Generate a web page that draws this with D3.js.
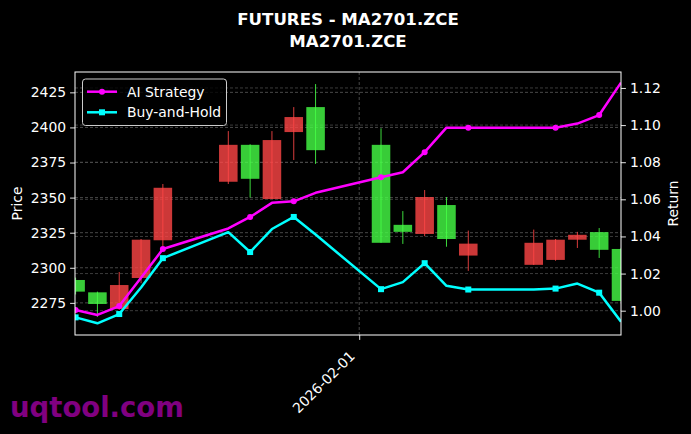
<!DOCTYPE html>
<html>
<head>
<meta charset="utf-8">
<script src="https://cdn.jsdelivr.net/npm/d3@7"></script>
<style>
  html, body { margin: 0; padding: 0; background: #000; }
  svg { display: block; font-family: "DejaVu Sans", sans-serif; }
</style>
</head>
<body>
<svg id="chart" width="691" height="434"></svg>
<script>
// ---------- data ----------
const dates = ["2026-01-19","2026-01-20","2026-01-21","2026-01-22","2026-01-23",
  "2026-01-26","2026-01-27","2026-01-28","2026-01-29","2026-01-30",
  "2026-02-02","2026-02-03","2026-02-04","2026-02-05","2026-02-06",
  "2026-02-09","2026-02-10","2026-02-11","2026-02-12","2026-02-13"];
const opens  = [2291.3,2282.5,2270.6,2292.7,2319.6,2361.3,2387.6,2349.0,2396.7,2414.5,
                2387.6,2330.6,2324.1,2344.7,2308.7,2302.1,2305.6,2320.0,2325.4,2313.4];
const highs  = [2293.0,2283.0,2297.0,2320.5,2359.7,2397.4,2388.0,2397.4,2414.5,2430.9,
                2399.4,2340.4,2355.4,2350.4,2326.5,2327.2,2320.5,2325.6,2328.3,2314.0];
const lows   = [2281.0,2265.0,2270.0,2289.0,2315.5,2359.7,2350.0,2349.0,2376.8,2374.0,
                2317.8,2317.0,2322.5,2315.0,2297.8,2302.0,2305.0,2314.1,2307.0,2276.0];
const closes = [2283.0,2274.2,2287.7,2320.0,2357.0,2387.6,2363.4,2391.0,2407.4,2383.8,
                2317.8,2325.6,2350.4,2320.5,2317.2,2317.8,2320.0,2323.5,2312.8,2276.4];
const aiReturn = [1.0004,0.9977,1.0025,1.0177,1.0332,1.0443,1.0505,1.0581,1.0589,1.0635,
                  1.0719,1.0746,1.0854,1.0986,1.0986,1.0986,1.0986,1.1008,1.1054,1.1229];
const bhReturn = [0.9964,0.9932,0.9982,1.0125,1.0283,1.0423,1.0316,1.0440,1.0505,1.0410,
                  1.0116,1.0154,1.0256,1.0134,1.0114,1.0114,1.0119,1.0146,1.0097,0.9941];
const priceTicks = [2275, 2300, 2325, 2350, 2375, 2400, 2425];
const returnTicks = [1.00, 1.02, 1.04, 1.06, 1.08, 1.10, 1.12];
const xTickLabels = ["2026-02-01"];
const seriesNames = ["AI Strategy", "Buy-and-Hold"];
const titleLines = ["FUTURES - MA2701.ZCE", "MA2701.ZCE"];
const watermark = "uqtool.com";

// ---------- layout ----------
const L = 75, R = 621, T = 72, B = 335;
const parse = d3.utcParse("%Y-%m-%d");
const dts = dates.map(parse);

const x = d3.scaleUtc().domain([dts[0], dts[dts.length - 1]]).range([75.6, 621]);
const yP = d3.scaleLinear().domain([2252.1, 2439.5]).range([B, T]);
const yR = d3.scaleLinear().domain([0.9869, 1.1286]).range([B, T]);

const svg = d3.select("#chart");
svg.append("rect").attr("width", 691).attr("height", 434).attr("fill", "#000");

svg.append("defs").append("clipPath").attr("id", "clip")
  .append("rect").attr("x", L).attr("y", T).attr("width", R - L).attr("height", B - T);

// grids
const grid = svg.append("g");
grid.selectAll(".gp").data(priceTicks).join("line")
  .attr("x1", L).attr("x2", R).attr("y1", d => yP(d)).attr("y2", d => yP(d))
  .attr("stroke", "#5a5a5a").attr("stroke-width", 0.8).attr("stroke-dasharray", "3,2");
grid.selectAll(".gr").data(returnTicks).join("line")
  .attr("x1", L).attr("x2", R).attr("y1", d => yR(d)).attr("y2", d => yR(d))
  .attr("stroke", "#4a4a4a").attr("stroke-width", 0.8).attr("stroke-dasharray", "3,2");
const xTickDates = xTickLabels.map(parse);
grid.selectAll(".gx").data(xTickDates).join("line")
  .attr("x1", d => x(d)).attr("x2", d => x(d)).attr("y1", T).attr("y2", B)
  .attr("stroke", "#5a5a5a").attr("stroke-width", 0.8).attr("stroke-dasharray", "3,2");

// candles
const day = x(dts[1]) - x(dts[0]);
const bw = day * 0.85;
const candles = svg.append("g").attr("clip-path", "url(#clip)");
const cdata = dts.map((d, i) => ({d, o: opens[i], h: highs[i], l: lows[i], c: closes[i]}));
const colUp = "#ff4646", colDn = "#46ff46";
candles.selectAll(".body").data(cdata).join("rect")
  .attr("x", d => x(d.d) - bw / 2)
  .attr("width", bw)
  .attr("y", d => yP(Math.max(d.o, d.c)))
  .attr("height", d => Math.max(1, Math.abs(yP(d.o) - yP(d.c))))
  .attr("fill", d => d.c >= d.o ? colUp : colDn)
  .attr("fill-opacity", 0.8);
candles.selectAll(".wick").data(cdata).join("line")
  .attr("x1", d => x(d.d)).attr("x2", d => x(d.d))
  .attr("y1", d => yP(d.h)).attr("y2", d => yP(d.l))
  .attr("stroke", d => d.c >= d.o ? colUp : colDn)
  .attr("stroke-width", 1).attr("stroke-opacity", 0.85);

// lines
const lines = svg.append("g").attr("clip-path", "url(#clip)");
const series = [
  {name: seriesNames[0], vals: aiReturn, color: "#ff00ff", marker: "circle"},
  {name: seriesNames[1], vals: bhReturn, color: "#00ffff", marker: "square"}
];
const lineGen = d3.line().x((v, i) => x(dts[i])).y(v => yR(v));
series.forEach(s => {
  lines.append("path").datum(s.vals).attr("d", lineGen)
    .attr("fill", "none").attr("stroke", s.color).attr("stroke-width", 2.5)
    .attr("stroke-linejoin", "round");
  const pts = s.vals.map((v, i) => ({v, i})).filter(p => p.i % 2 === 0);
  if (s.marker === "circle") {
    lines.selectAll(null).data(pts).join("circle")
      .attr("cx", p => x(dts[p.i])).attr("cy", p => yR(p.v)).attr("r", 3)
      .attr("fill", s.color);
  } else {
    lines.selectAll(null).data(pts).join("rect")
      .attr("x", p => x(dts[p.i]) - 3).attr("y", p => yR(p.v) - 3)
      .attr("width", 6).attr("height", 6).attr("fill", s.color);
  }
});

// axes
const axL = svg.append("g").attr("transform", `translate(${L},0)`)
  .call(d3.axisLeft(yP).tickValues(priceTicks).tickFormat(d3.format("d")).tickSize(4.9).tickPadding(4));
const axR = svg.append("g").attr("transform", `translate(${R},0)`)
  .call(d3.axisRight(yR).tickValues(returnTicks).tickFormat(d3.format(".2f")).tickSize(4.9).tickPadding(4));
const axB = svg.append("g").attr("transform", `translate(0,${B})`)
  .call(d3.axisBottom(x).tickValues(xTickDates).tickFormat(d3.utcFormat("%Y-%m-%d")).tickSize(4.9).tickPadding(4));
[axL, axR, axB].forEach(a => {
  a.select(".domain").remove();
  a.selectAll(".tick line").attr("stroke", "#fff").attr("stroke-width", 0.9);
  a.selectAll(".tick text").attr("fill", "#fff").attr("font-size", "13.9px")
    .attr("font-family", "DejaVu Sans");
});
axB.selectAll(".tick text")
  .attr("text-anchor", "end").attr("dy", null).attr("y", null)
  .attr("transform", "translate(-4,22) rotate(-45)");

// spines
svg.append("rect").attr("x", L).attr("y", T).attr("width", R - L).attr("height", B - T)
  .attr("fill", "none").attr("stroke", "#fff").attr("stroke-width", 1);

// axis labels
svg.append("text").attr("transform", `translate(22,${(T + B) / 2}) rotate(-90)`)
  .attr("text-anchor", "middle").attr("fill", "#fff").attr("font-size", "13.9px").text("Price");
svg.append("text").attr("transform", `translate(678,${(T + B) / 2}) rotate(-90)`)
  .attr("text-anchor", "middle").attr("fill", "#fff").attr("font-size", "13.9px").text("Return");

// title
svg.append("text").attr("x", 348).attr("y", 25).attr("text-anchor", "middle")
  .attr("fill", "#fff").attr("font-weight", "bold").attr("font-size", "16.6px").text(titleLines[0]);
svg.append("text").attr("x", 348).attr("y", 47).attr("text-anchor", "middle")
  .attr("fill", "#fff").attr("font-weight", "bold").attr("font-size", "16.6px").text(titleLines[1]);

// legend
const lg = svg.append("g");
lg.append("rect").attr("x", 82.5).attr("y", 79).attr("width", 144).attr("height", 46.5)
  .attr("rx", 3).attr("fill", "#000").attr("fill-opacity", 0.8)
  .attr("stroke", "#cccccc").attr("stroke-width", 1);
series.forEach((s, i) => {
  const cy = 91.7 + i * 20.6;
  lg.append("line").attr("x1", 87).attr("x2", 117).attr("y1", cy).attr("y2", cy)
    .attr("stroke", s.color).attr("stroke-width", 2.5);
  if (s.marker === "circle") {
    lg.append("circle").attr("cx", 102).attr("cy", cy).attr("r", 3).attr("fill", s.color);
  } else {
    lg.append("rect").attr("x", 99).attr("y", cy - 3).attr("width", 6).attr("height", 6).attr("fill", s.color);
  }
  lg.append("text").attr("x", 127).attr("y", cy).attr("dy", "0.35em")
    .attr("fill", "#fff").attr("font-size", "13.9px").text(s.name);
});

// watermark
svg.append("text").attr("x", 10).attr("y", 417).attr("fill", "#800080")
  .attr("font-weight", "bold").attr("font-size", "27.5px").text(watermark);
</script>
</body>
</html>
